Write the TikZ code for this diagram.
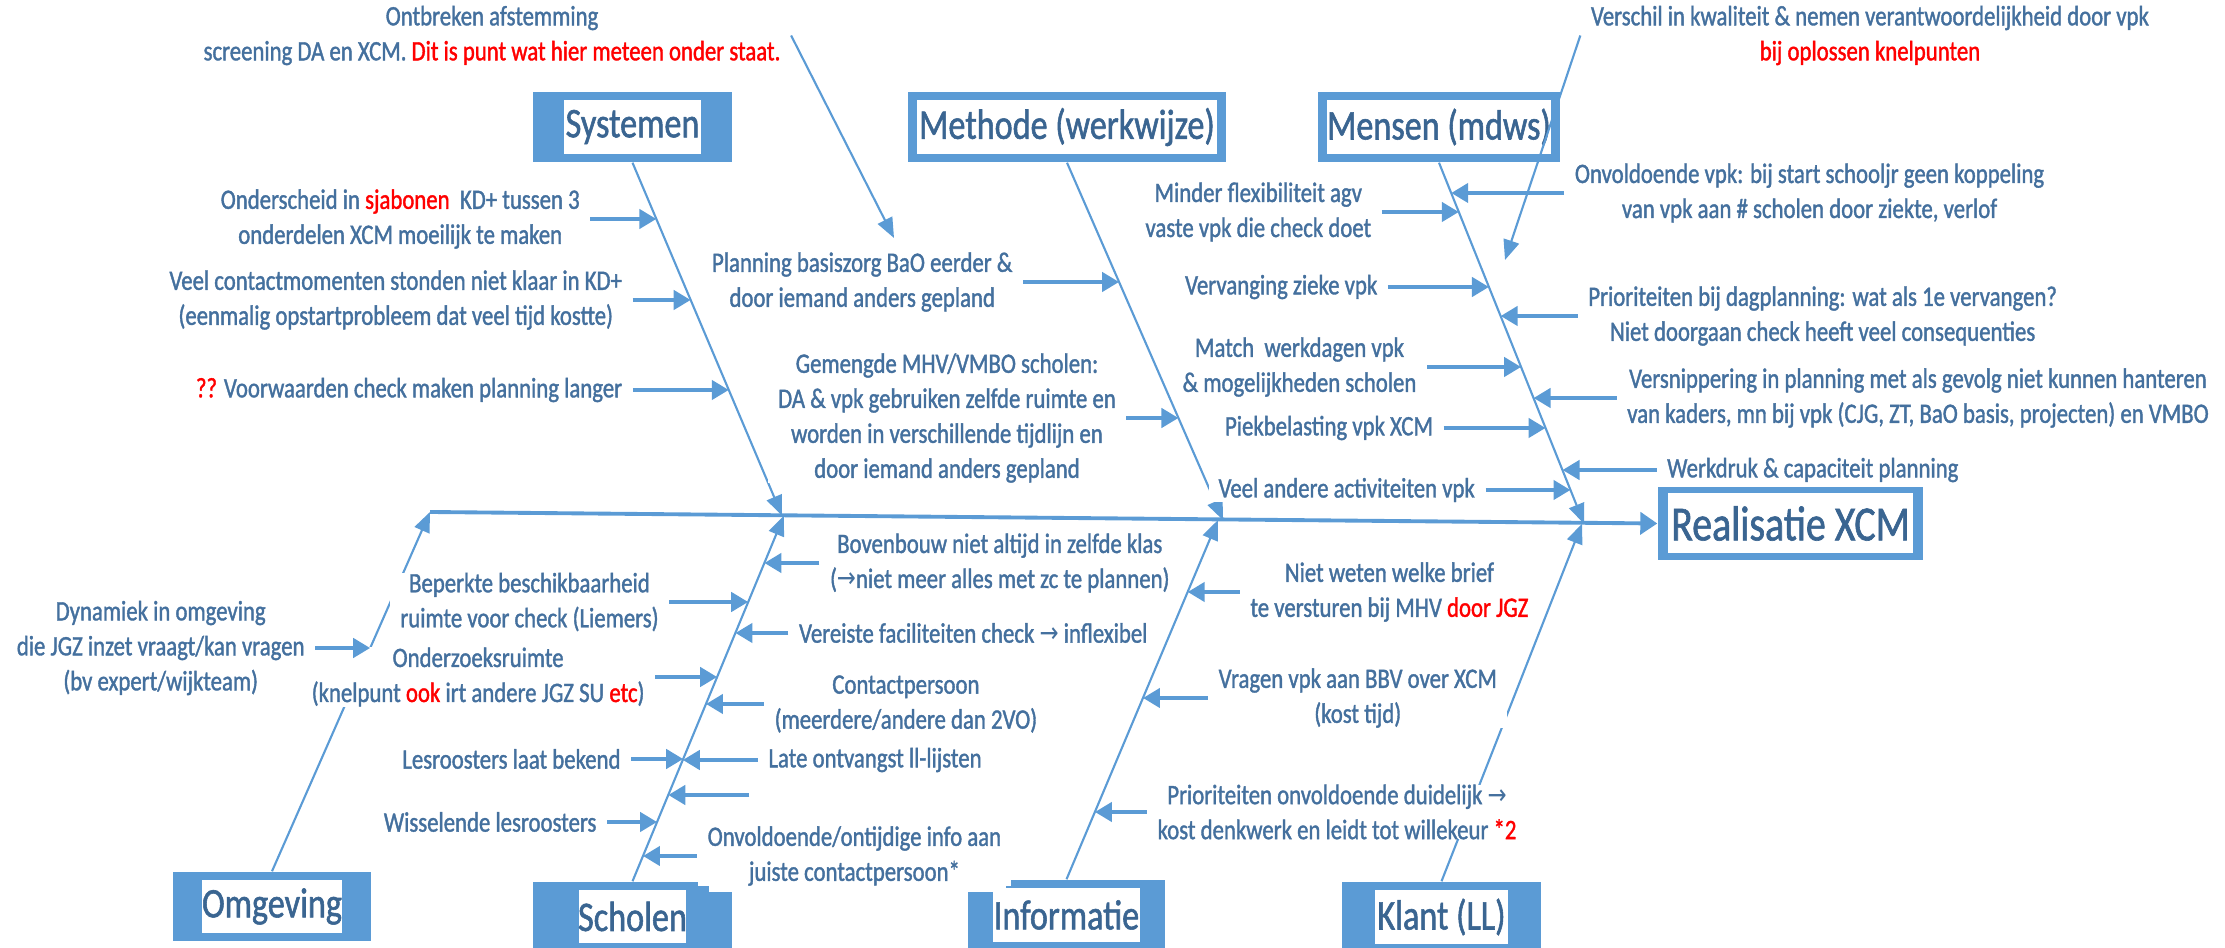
\documentclass[tikz,border=0pt]{standalone}
\usepackage{fontspec}
\setmainfont{Carlito}[FakeStretch=0.81,FakeBold=1.3]
\newfontfamily\arrowfont{DejaVu Sans}[FakeStretch=0.81]
\usetikzlibrary{arrows.meta,positioning,calc,intersections}
\definecolor{boxblue}{HTML}{5B9BD5}
\definecolor{txtblue}{HTML}{44709E}
\definecolor{titleblue}{HTML}{3A6591}
\definecolor{warnred}{HTML}{FF0000}
\newcommand{\redtxt}[1]{\textcolor{warnred}{#1}}
\newcommand{\toarrow}{{\arrowfont →}}
\newcommand{\causefont}{\fontsize{8pt}{9.96pt}\selectfont}
\newcommand{\titlefont}{\fontsize{12pt}{14pt}\selectfont}

\begin{document}
\begin{tikzpicture}[x=1cm,y=-1cm,
    cause/.style={fill=white,text=txtblue,font=\causefont,align=center,inner xsep=0.1cm,inner ysep=0pt},
    bone/.style={draw=boxblue,line width=0.6pt,-{Triangle[length=0.2cm,width=0.16cm]}},
    feed/.style={draw=boxblue,line width=1.2pt,-{Triangle[length=0.17cm,width=0.19cm]}},
    spine/.style={draw=boxblue,line width=1.1pt,-{Triangle[length=0.17cm,width=0.22cm]}},
    catbox/.style 2 args={fill=boxblue,text=titleblue,font=\titlefont,inner sep=0pt,
      path picture={\fill[white] ([xshift=#1,yshift=-#2]path picture bounding box.north west)
        rectangle ([xshift=-#1,yshift=#2]path picture bounding box.south east);}}]
  \useasboundingbox (0,0) rectangle (22.25,9.48);

  % category boxes
  \node[catbox={0.31cm}{0.08cm},minimum width=1.99cm,minimum height=0.70cm] (sys) at (6.325,1.27) {Systemen};
  \node[catbox={0.09cm}{0.08cm},minimum width=3.18cm,minimum height=0.70cm] (met) at (10.67,1.27) {Methode (werkwijze)};
  \node[catbox={0.09cm}{0.08cm},minimum width=2.42cm,minimum height=0.70cm] (men) at (14.39,1.27) {Mensen (mdws)};
  \node[catbox={0.29cm}{0.08cm},minimum width=1.98cm,minimum height=0.69cm] (omg) at (2.72,9.065) {Omgeving};
  \node[catbox={0.46cm}{0.08cm},minimum width=1.99cm,minimum height=0.69cm] (sch) at (6.325,9.165) {Scholen};
  \node[catbox={0.25cm}{0.08cm},minimum width=1.97cm,minimum height=0.70cm] (inf) at (10.665,9.15) {Informatie};
  \node[catbox={0.33cm}{0.08cm},minimum width=1.99cm,minimum height=0.70cm] (kla) at (14.415,9.17) {Klant (LL)};
  \node[catbox={0.10cm}{0.065cm},minimum width=2.65cm,minimum height=0.73cm,font=\fontsize{14pt}{16pt}\selectfont] (real) at (17.905,5.235) {Realisatie XCM};
  \fill[white] (7.09,8.815) rectangle (7.34,8.92);
  \fill[white] (9.67,8.795) rectangle (10.06,8.92);

  % spine and bones
  \coordinate (spA) at (4.30,5.12);
  \coordinate (sysB) at (7.82,5.156);
  \coordinate (metB) at (12.23,5.201);
  \coordinate (menB) at (15.84,5.237);
  \coordinate (schB) at (7.84,5.156);
  \coordinate (infB) at (12.18,5.200);
  \coordinate (klaB) at (15.82,5.237);
  \draw[spine] (spA) -- (real.west);
  \draw[bone,name path=sysP] (sys.south) -- (sysB);
  \draw[bone,name path=metP] (met.south) -- (metB);
  \draw[bone,name path=menP] (men.south) -- (menB);
  \draw[bone,name path=omgP] (omg.north) -- (spA);
  \draw[bone,name path=schP] (sch.north) -- (schB);
  \draw[bone,name path=infP] (inf.north) -- (infB);
  \draw[bone] (kla.north) -- (klaB);

  % causes left of their bone
  \foreach \nm/\bp/\y/\len/\txt in {
      s1/sysP/2.19/0.66/{Onderscheid in \redtxt{sjabonen}~ KD+ tussen 3\\onderdelen XCM moeilijk te maken},
      s2/sysP/3.00/0.58/{Veel contactmomenten stonden niet klaar in KD+\\(eenmalig opstartprobleem dat veel tijd kostte)},
      s3/sysP/3.90/0.96/{\redtxt{??} Voorwaarden check maken planning langer},
      m1/metP/2.82/0.96/{Planning basiszorg BaO eerder \&\\door iemand anders gepland},
      m2/metP/4.18/0.52/{Gemengde MHV/VMBO scholen:\\DA \& vpk gebruiken zelfde ruimte en\\worden in verschillende tijdlijn en\\door iemand anders gepland},
      n1/menP/2.12/0.77/{Minder flexibiliteit agv\\vaste vpk die check doet},
      n2/menP/2.87/1.01/{Vervanging zieke vpk},
      n3/menP/3.67/0.94/{Match~ werkdagen vpk\\\& mogelijkheden scholen},
      n4/menP/4.28/1.02/{Piekbelasting vpk XCM},
      n5/menP/4.90/0.85/{Veel andere activiteiten vpk},
      c1/schP/6.02/0.79/{Beperkte beschikbaarheid\\ruimte voor check (Liemers)},
      c2/schP/6.77/0.62/{Onderzoeksruimte\\(knelpunt \redtxt{ook} irt andere JGZ SU \redtxt{etc})},
      c3/schP/7.59/0.52/{Lesroosters laat bekend},
      c4/schP/8.22/0.50/{Wisselende lesroosters}}{
    \path[name path=hl] (0,\y) -- (22,\y);
    \path[name intersections={of=hl and \bp,by=t\nm}];
    \node[cause,anchor=east] (\nm) at ($(t\nm)-(\len,0)$) {\txt};
    \draw[feed] (\nm) -- (t\nm);
  }
  % Omgeving: on top of the box of c2, without a white ground
  \path[name path=hl] (0,6.48) -- (22,6.48);
  \path[name intersections={of=hl and omgP,by=to1}];
  \node[cause,fill=none,anchor=east] (o1) at ($(to1)-(0.55,0)$) {Dynamiek in omgeving\\die JGZ inzet vraagt/kan vragen\\(bv expert/wijkteam)};
  \draw[feed] (o1) -- (to1);

  % causes right of their bone
  \foreach \nm/\bp/\y/\len/\txt in {
      r1/menP/1.93/1.13/{Onvoldoende vpk: bij start schooljr geen koppeling\\van vpk aan \# scholen door ziekte, verlof},
      r2/menP/3.16/0.77/{Prioriteiten bij dagplanning: wat als 1e vervangen?\\Niet doorgaan check heeft veel consequenties},
      r3/menP/3.98/0.83/{Versnippering in planning met als gevolg niet kunnen hanteren\\van kaders, mn bij vpk (CJG, ZT, BaO basis, projecten) en VMBO},
      r4/menP/4.70/0.94/{Werkdruk \& capaciteit planning},
      d1/schP/5.63/0.55/{Bovenbouw niet altijd in zelfde klas\\(\toarrow niet meer alles met zc te plannen)},
      d2/schP/6.33/0.53/{Vereiste faciliteiten check \toarrow\ inflexibel},
      d3/schP/7.04/0.58/{Contactpersoon\\(meerdere/andere dan 2VO)},
      d4/schP/7.60/0.75/{Late ontvangst ll-lijsten},
      d6/schP/8.56/0.54/{Onvoldoende/ontijdige info aan\\juiste contactpersoon*},
      i1/infP/5.92/0.52/{Niet weten welke brief\\te versturen bij MHV \redtxt{door JGZ}},
      i2/infP/6.98/0.65/{Vragen vpk aan BBV over XCM\\(kost tijd)},
      i3/infP/8.12/0.52/{Prioriteiten onvoldoende duidelijk \toarrow\\kost denkwerk en leidt tot willekeur \redtxt{*2}}}{
    \path[name path=hl] (0,\y) -- (22,\y);
    \path[name intersections={of=hl and \bp,by=t\nm}];
    \node[cause,anchor=west] (\nm) at ($(t\nm)+(\len,0)$) {\txt};
    \draw[feed] (\nm) -- (t\nm);
  }
  \path[name path=hl] (0,7.95) -- (22,7.95);
  \path[name intersections={of=hl and schP,by=td5}];
  \coordinate (d5) at ($(td5)+(0.81,0)$);
  \draw[feed] (d5) -- (td5);

  % remarks on top
  \node[cause] (ont) at (4.92,0.355) {Ontbreken afstemming\\screening DA en XCM. \redtxt{Dit is punt wat hier meteen onder staat.}};
  \coordinate (ontTip) at (8.94,2.38);
  \draw[bone] (ont.east) -- (ontTip);
  \node[cause] (ver) at (18.70,0.355) {Verschil in kwaliteit \& nemen verantwoordelijkheid door vpk\\\redtxt{bij oplossen knelpunten}};
  \coordinate (verTip) at (15.05,2.60);
  \draw[bone] (ver.west) -- (verTip);
\end{tikzpicture}
\end{document}
